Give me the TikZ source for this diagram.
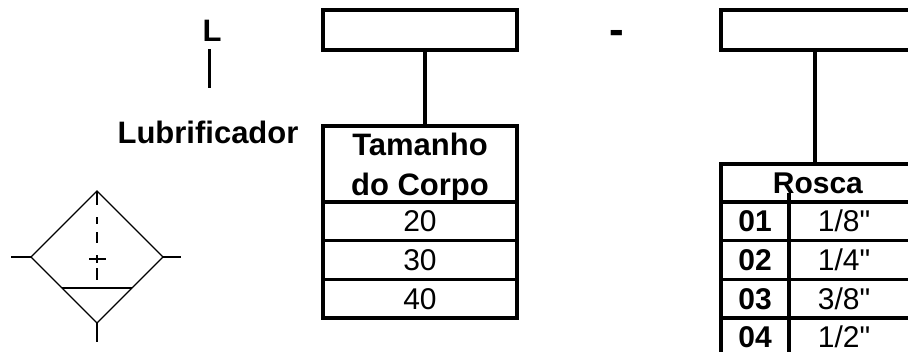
\documentclass[tikz,border=0pt]{standalone}
\usepackage{fontspec}
\setmainfont{Liberation Sans}[Ligatures=TeXOff]
\usepackage{tikz}
\usetikzlibrary{positioning}
\newcommand{\hd}[1]{\textbf{#1}}

\begin{document}
\begin{tikzpicture}[x=1pt,y=-1pt,
  cell/.style={draw,line width=3.5pt,inner sep=0pt,outer sep=0pt,
    minimum height=38.7pt,font=\fontsize{30}{40}\selectfont},
  num/.style={text height=21pt,text depth=0pt},
  big/.style={inner sep=0pt,font=\fontsize{31}{36}\selectfont},
  sym/.style={line width=1.3pt}]
  \useasboundingbox (0,0) rectangle (908,351);
  \clip (0,0) rectangle (908,351);
  % letters on top
  \node[big,num] (L) at (212,30.5) {\hd{L}};
  \node[big,num] (lub) at (208,132.5) {\hd{Lubrificador}};
  \node[inner sep=0pt,font=\fontsize{44}{50}\selectfont,anchor=base] (dash) at (617,44) {\hd{-}};
  \draw[line width=3pt] ([xshift=-3pt,yshift=-8pt]L.south) -- ++(0,39);
  % size table
  \node[cell,minimum width=194pt,minimum height=40pt] (codeL) at (420,30) {};
  \node[cell,minimum width=194pt,minimum height=76pt,align=center,text depth=0pt,
    font=\fontsize{31}{40}\selectfont] (sizeHead) at (420,164) {\hd{Tamanho}\\\hd{do Corpo}};
  \node[cell,num,minimum width=194pt,below=0pt of sizeHead] (s20) {20};
  \node[cell,num,minimum width=194pt,below=0pt of s20] (s30) {30};
  \node[cell,num,minimum width=194pt,below=0pt of s30] (s40) {40};
  \draw[line width=3.5pt] ([xshift=5pt]codeL.south) -- ([xshift=5pt]sizeHead.north);
  % thread table
  \node[cell,minimum width=194pt,minimum height=40pt] (codeR) at (818,30) {};
  \node[cell,num,minimum width=194pt,minimum height=38pt] (thread) at (818,183) {\hd{Rosca}};
  \node[cell,num,minimum width=68pt,anchor=north west] (c01) at (thread.south west) {\hd{01}};
  \node[cell,num,minimum width=68pt,below=0pt of c01] (c02) {\hd{02}};
  \node[cell,num,minimum width=68pt,below=0pt of c02] (c03) {\hd{03}};
  \node[cell,num,minimum width=68pt,below=0pt of c03] (c04) {\hd{04}};
  \node[cell,num,minimum width=126pt,right=0pt of c01] (v01) {\hspace*{-16pt}1/8"};
  \node[cell,num,minimum width=126pt,right=0pt of c02] (v02) {\hspace*{-16pt}1/4"};
  \node[cell,num,minimum width=126pt,right=0pt of c03] (v03) {\hspace*{-16pt}3/8"};
  \node[cell,num,minimum width=126pt,right=0pt of c04] (v04) {\hspace*{-16pt}1/2"};
  \draw[line width=3.5pt] ([xshift=-3pt]codeR.south) -- ([xshift=-3pt]thread.north);
  \draw[line width=3.5pt] (c01.north east) -- ++(0,-9);
  % lubricator symbol
  \draw[sym] (97,191) -- (163,257) -- (97,323) -- (31,257) -- cycle;
  \draw[sym] (11,257) -- (31,257) (163,257) -- (181,257) (97,323) -- (97,342);
  \draw[sym] (62,288) -- (132,288);
  \draw[sym,dash pattern=on 14pt off 12pt on 7pt off 8pt on 11pt off 12pt on 8pt off 5pt on 12pt off 20pt] (97,191) -- (97,280);
  \draw[sym] (89,259) -- (106,259);
\end{tikzpicture}
\end{document}
